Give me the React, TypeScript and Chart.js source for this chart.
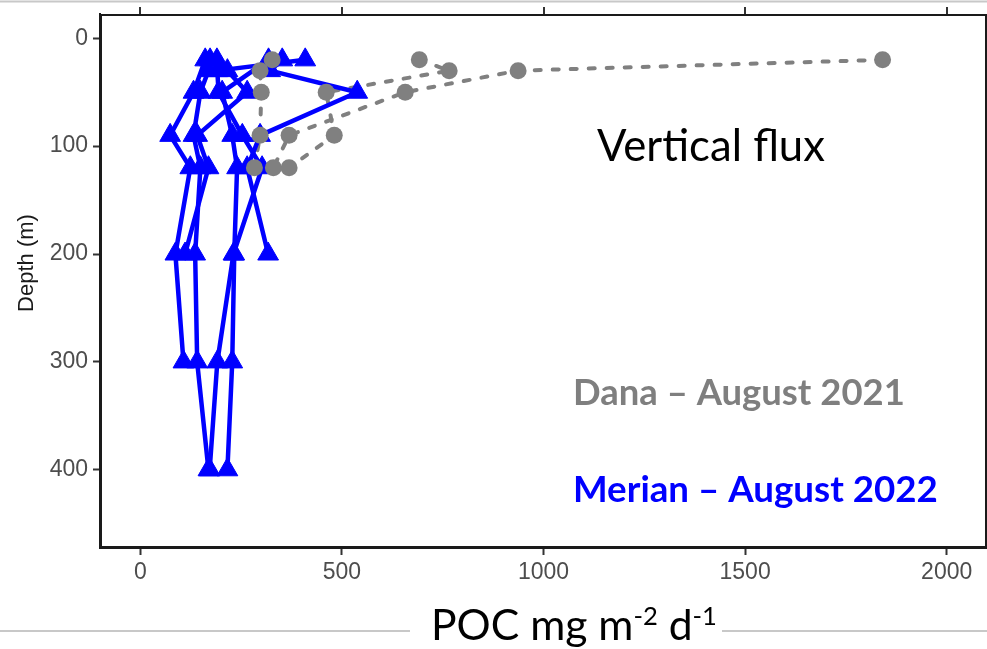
import React, { useEffect, useRef } from "react";
import { Chart, registerables } from "chart.js";

Chart.register(...registerables);

// ---- axis ticks ----
const xTicks = [0, 500, 1000, 1500, 2000];
const yTicks = [0, 100, 200, 300, 400];

// ---- Dana – August 2021 (grey, circles, dotted) ----
const danaDepths = [20, 30, 50, 90, 120];
const danaProfileA = [1841, 937, 657, 369, 330];
const danaProfileB = [692, 766, 461, 481, 369];
const danaProfileC = [327, 297, 300, 297, 283];

// ---- Merian – August 2022 (blue, triangles, solid) ----
const merian1Depths = [20, 50, 90, 120, 200, 300];
const merian1Flux = [161, 132, 74, 124, 87, 107];
const merian2Depths = [20, 30, 50, 90, 120, 200, 300, 400];
const merian2Flux = [173, 169, 149, 132, 149, 136, 141, 169];
const merian3Depths = [20, 30, 50, 90, 120, 200];
const merian3Flux = [190, 216, 265, 141, 169, 111];
const merian4Depths = [20, 30, 50, 90, 120, 200, 300, 400];
const merian4Flux = [409, 191, 194, 253, 302, 231, 191, 172];
const merian5Depths = [20, 50, 90, 120, 200, 300, 400];
const merian5Flux = [318, 203, 228, 240, 233, 228, 216];
const merian6Depths = [20, 30, 50, 90, 120, 200];
const merian6Flux = [352, 322, 538, 297, 265, 317];

// ---- texts ----
const panelLabel = "Vertical flux";
const danaLabel = "Dana – August 2021";
const merianLabel = "Merian – August 2022";
const yTitle = "Depth (m)";
const xTitleParts = ["POC mg m", "-2", " d", "-1"];

const GRAY = "#808080";
const BLUE = "#0000ff";

const pts = (xs: number[], ds: number[]) => xs.map((x, i) => ({ x, y: ds[i] }));

const danaProfiles = [danaProfileA, danaProfileB, danaProfileC].map((p) => pts(p, danaDepths));
const merianProfiles = [
  pts(merian1Flux, merian1Depths),
  pts(merian2Flux, merian2Depths),
  pts(merian3Flux, merian3Depths),
  pts(merian4Flux, merian4Depths),
  pts(merian5Flux, merian5Depths),
  pts(merian6Flux, merian6Depths),
];

const fitSize = (ctx: CanvasRenderingContext2D, text: string, weight: string, family: string, target: number) => {
  ctx.font = `${weight} 100px ${family}`;
  const w = ctx.measureText(text).width;
  return (100 * target) / w;
};

const overlayPlugin = {
  id: "overlay",
  afterDraw(chart: any) {
    const ctx: CanvasRenderingContext2D = chart.ctx;
    const { left, top, right, bottom } = chart.chartArea;
    const xs = chart.scales.x;
    ctx.save();
    // panel border
    ctx.strokeStyle = "#1a1a1a";
    ctx.lineWidth = 2;
    ctx.strokeRect(left + 1, top + 1, right - left - 2, bottom - top - 2);
    // top tick marks
    ctx.beginPath();
    xTicks.forEach((v) => {
      const px = Math.round(xs.getPixelForValue(v));
      ctx.moveTo(px, top);
      ctx.lineTo(px, top - 7);
    });
    ctx.strokeStyle = "#333333";
    ctx.stroke();

    // light separator lines
    ctx.strokeStyle = "#c8c8c8";
    ctx.lineWidth = 2;
    ctx.beginPath();
    ctx.moveTo(0, 1.5);
    ctx.lineTo(987, 1.5);
    ctx.moveTo(0, 631);
    ctx.lineTo(410, 631);
    ctx.moveTo(722, 631);
    ctx.lineTo(987, 631);
    ctx.stroke();

    // annotations
    const fam = "Lato, 'Open Sans', sans-serif";
    ctx.textBaseline = "alphabetic";
    ctx.textAlign = "left";
    let s = fitSize(ctx, panelLabel, "400", fam, 228);
    ctx.font = `400 ${s}px ${fam}`;
    ctx.fillStyle = "#000000";
    ctx.fillText(panelLabel, 597, 161);

    s = fitSize(ctx, danaLabel, "700", fam, 332);
    ctx.font = `700 ${s}px ${fam}`;
    ctx.fillStyle = "#7f7f7f";
    ctx.fillText(danaLabel, 573, 405);

    s = fitSize(ctx, merianLabel, "700", fam, 365);
    ctx.font = `700 ${s}px ${fam}`;
    ctx.fillStyle = BLUE;
    ctx.fillText(merianLabel, 573, 502);

    // x title with superscripts
    const supScale = 0.6;
    let w100 = 0;
    xTitleParts.forEach((p, i) => {
      const sc = i % 2 === 1 ? supScale : 1;
      ctx.font = `400 ${100 * sc}px ${fam}`;
      w100 += ctx.measureText(p).width;
    });
    const size = (100 * 286) / w100;
    let cx = 431;
    const base = 640;
    ctx.fillStyle = "#000000";
    xTitleParts.forEach((p, i) => {
      const sup = i % 2 === 1;
      const fs = sup ? size * supScale : size;
      ctx.font = `400 ${fs}px ${fam}`;
      ctx.fillText(p, cx, sup ? base - size * 0.36 : base);
      cx += ctx.measureText(p).width;
    });

    // y title
    ctx.save();
    ctx.translate(27, 263);
    ctx.rotate(-Math.PI / 2);
    ctx.textAlign = "center";
    ctx.textBaseline = "middle";
    ctx.font = "400 22px 'Liberation Sans', Arial, sans-serif";
    ctx.fillStyle = "#1a1a1a";
    ctx.fillText(yTitle, 0, 0);
    ctx.restore();

    ctx.restore();
  },
};

export default function App() {
  const ref = useRef<HTMLCanvasElement | null>(null);

  useEffect(() => {
    if (!ref.current) return;
    const datasets: any[] = [];
    danaProfiles.forEach((d) =>
      datasets.push({
        data: d,
        showLine: true,
        borderColor: GRAY,
        borderWidth: 4,
        borderDash: [6, 12],
        borderCapStyle: "round",
        borderJoinStyle: "round",
        pointRadius: 0,
        pointHoverRadius: 0,
        order: 3,
      })
    );
    merianProfiles.forEach((d) =>
      datasets.push({
        data: d,
        showLine: true,
        borderColor: BLUE,
        borderWidth: 4.5,
        borderJoinStyle: "round",
        pointRadius: 0,
        pointHoverRadius: 0,
        order: 2,
      })
    );
    merianProfiles.forEach((d) =>
      datasets.push({
        data: d,
        showLine: false,
        pointStyle: "triangle",
        pointRadius: 12,
        backgroundColor: BLUE,
        borderColor: BLUE,
        borderWidth: 1,
        order: 1,
      })
    );
    danaProfiles.forEach((d) =>
      datasets.push({
        data: d,
        showLine: false,
        pointStyle: "circle",
        pointRadius: 8.5,
        backgroundColor: GRAY,
        borderColor: GRAY,
        borderWidth: 0,
        order: 0,
      })
    );

    const tickFont = { family: "'Liberation Sans', Arial, sans-serif", size: 23 };
    const chart = new Chart(ref.current, {
      type: "scatter",
      data: { datasets },
      options: {
        animation: false,
        responsive: false,
        devicePixelRatio: 1,
        events: [],
        layout: { autoPadding: false, padding: { top: 14, left: 0, right: 0, bottom: 0 } },
        plugins: { legend: { display: false }, tooltip: { enabled: false } },
        scales: {
          x: {
            type: "linear",
            position: "bottom",
            min: -100,
            max: 2100,
            afterBuildTicks: (s: any) => {
              s.ticks = xTicks.map((v) => ({ value: v }));
            },
            afterFit: (s: any) => {
              s.height = 101;
              s.paddingLeft = 0;
              s.paddingRight = 0;
            },
            grid: { display: true, drawOnChartArea: false, drawTicks: true, tickLength: 7, tickWidth: 2, tickColor: "#333333" },
            border: { display: true, color: "#1a1a1a", width: 2 },
            ticks: { color: "#4d4d4d", font: tickFont, padding: 4, maxRotation: 0, callback: (v: any) => String(v) },
          },
          y: {
            type: "linear",
            reverse: true,
            min: -22.5,
            max: 472.5,
            afterBuildTicks: (s: any) => {
              s.ticks = yTicks.map((v) => ({ value: v }));
            },
            afterFit: (s: any) => {
              s.width = 100;
              s.paddingTop = 0;
              s.paddingBottom = 0;
            },
            grid: { display: true, drawOnChartArea: false, drawTicks: true, tickLength: 7, tickWidth: 2, tickColor: "#333333" },
            border: { display: true, color: "#1a1a1a", width: 2 },
            ticks: { color: "#4d4d4d", font: tickFont, padding: 5, callback: (v: any) => String(v) },
          },
        },
      },
      plugins: [overlayPlugin],
    } as any);
    return () => chart.destroy();
  }, []);

  return (
    <div style={{ position: "absolute", left: 0, top: 0, width: 987, height: 649, background: "#ffffff" }}>
      <canvas ref={ref} width={987} height={649} style={{ display: "block" }} />
    </div>
  );
}
